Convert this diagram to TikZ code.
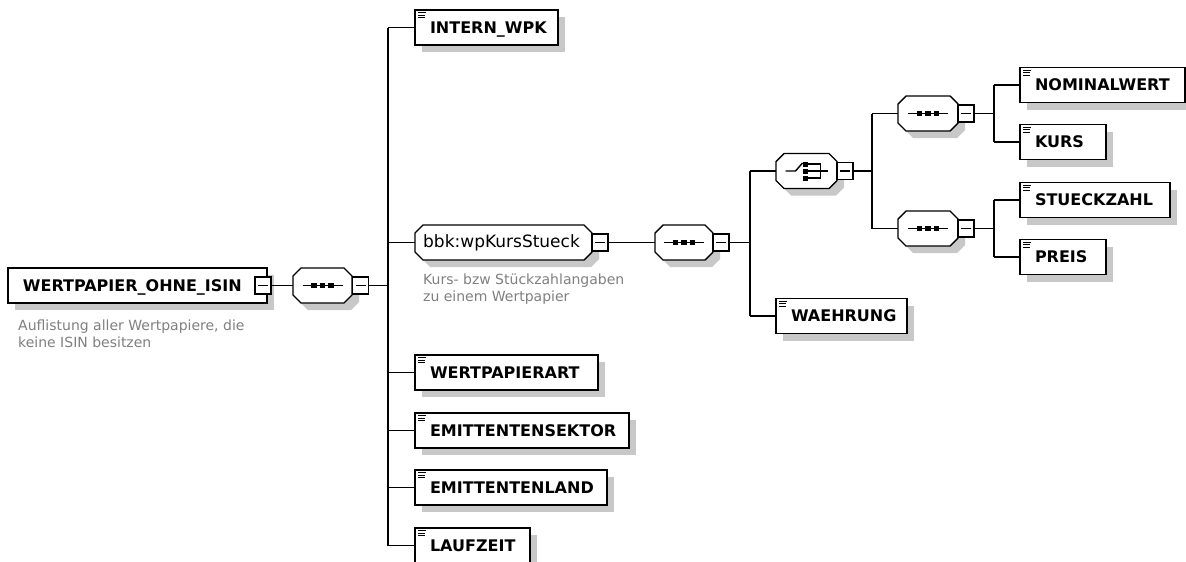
\documentclass[tikz,border=0pt]{standalone}
\usepackage{fontspec}
\setmainfont{DejaVu Sans}
\usetikzlibrary{shadows}
\definecolor{shadowc}{RGB}{200,200,200}
\definecolor{descc}{RGB}{128,128,128}
\tikzset{
  conn/.style={line width=1.4pt, draw=black},
  elembox/.style={draw, line width=1.4pt, fill=white, anchor=west,
    minimum height=35pt, inner xsep=0pt, inner ysep=0pt, outer sep=0pt,
    text height=11.7pt, text depth=0pt,
    text width=#1, align=left, font=\fontsize{16}{18}\selectfont\bfseries,
    general shadow={fill=shadowc, shadow xshift=7pt, shadow yshift=-7pt}},
  simpleicon/.style={path picture={
    \draw[line width=1pt]
      ([xshift=3pt,yshift=-2.5pt]path picture bounding box.north west) -- ++(8pt,0pt)
      ([xshift=3pt,yshift=-5pt]path picture bounding box.north west) -- ++(7pt,0pt)
      ([xshift=3pt,yshift=-7.5pt]path picture bounding box.north west) -- ++(7pt,0pt);}},
  minusbox/.style={draw, line width=1.4pt, fill=white, minimum width=16pt,
    minimum height=17pt, inner sep=0pt, outer sep=0pt,
    path picture={\draw[line width=1.1pt] ([xshift=3pt]path picture bounding box.west)
      -- ([xshift=-3pt]path picture bounding box.east);}},
  compbox/.style={draw=none, minimum width=#1, minimum height=35pt, inner sep=0pt, outer sep=0pt},
  desctext/.style={anchor=north west, inner sep=0pt, align=left, text=descc,
    font=\fontsize{14}{17}\selectfont},
  typetext/.style={anchor=west, inner sep=0pt, font=\fontsize{17}{19}\selectfont},
}
\newcommand\octshape[1]{%
  \fill[shadowc] ([xshift=15pt,yshift=-7pt]#1.north west) -- ([xshift=-1pt,yshift=-7pt]#1.north east)
    -- ([xshift=7pt,yshift=-15pt]#1.north east) -- ([xshift=7pt,yshift=1pt]#1.south east)
    -- ([xshift=-1pt,yshift=-7pt]#1.south east) -- ([xshift=15pt,yshift=-7pt]#1.south west)
    -- ([xshift=7pt,yshift=1pt]#1.south west) -- ([xshift=7pt,yshift=-15pt]#1.north west) -- cycle;
  \draw[line width=1.4pt, fill=white, line join=round] ([xshift=8pt]#1.north west) -- ([xshift=-8pt]#1.north east)
    -- ([yshift=-8pt]#1.north east) -- ([yshift=8pt]#1.south east)
    -- ([xshift=-8pt]#1.south east) -- ([xshift=8pt]#1.south west)
    -- ([yshift=8pt]#1.south west) -- ([yshift=-8pt]#1.north west) -- cycle;
}
\newcommand\seqicon[1]{%
  \draw[line width=1.4pt] ([xshift=-20pt]#1.center) -- ([xshift=20pt]#1.center);
  \foreach \dx in {-8.5pt,0pt,8.5pt} {\fill ([xshift=\dx]#1.center) +(-2.6pt,-2.6pt) rectangle +(2.6pt,2.6pt);}
}
\newcommand\choiceicon[1]{%
  \draw[line width=1.4pt] ([xshift=-21pt]#1.center) -- ([xshift=-11pt]#1.center) -- ([xshift=-4pt,yshift=8pt]#1.center);
  \foreach \dy in {-7pt,0pt,7pt} {%
    \fill ([xshift=-1pt,yshift=\dy]#1.center) +(-2.5pt,-2.5pt) rectangle +(2.5pt,2.5pt);
    \draw[line width=1.4pt] ([xshift=1pt,yshift=\dy]#1.center) -- ([xshift=14pt,yshift=\dy]#1.center);}
  \draw[line width=1.4pt] ([xshift=14pt,yshift=7.7pt]#1.center) -- ([xshift=14pt,yshift=-7.7pt]#1.center);
  \draw[line width=1.4pt] ([xshift=14pt]#1.center) -- ([xshift=21pt]#1.center);
}
\begin{document}
\begin{tikzpicture}[x=1pt,y=-1pt]
\fill[white] (0,0) rectangle (1186,562);
\useasboundingbox (0,0) rectangle (1186,562);

% root
\node[elembox=259pt] (root) at (8,285.5) {\hspace*{15pt}WERTPAPIER\_OHNE\_ISIN};
\node[minusbox] (m0) at (263,285.5) {};
\node[desctext] (desc0) at (18,319.4) {Auflistung aller Wertpapiere, die\\keine ISIN besitzen};
\node[compbox=59pt] (s0) at (322.5,285.5) {};
\octshape{s0}\seqicon{s0}
\node[minusbox] (ms0) at (360.5,285.5) {};
\coordinate (b1) at (388,285.5);

% level 1
\node[elembox=143pt, simpleicon] (intern) at (415,27.5) {\hspace*{15pt}INTERN\_WPK};
\node[compbox=177pt] (bbk) at (503.5,242.5) {};
\octshape{bbk}
\node[typetext] (bbktext) at ([xshift=8pt]bbk.west) {bbk:wpKursStueck};
\node[minusbox] (mbbk) at (600,242.5) {};
\node[desctext] (desc1) at (423,273.5) {Kurs- bzw Stückzahlangaben\\zu einem Wertpapier};
\node[elembox=183pt, simpleicon] (wpa) at (415,372.5) {\hspace*{15pt}WERTPAPIERART};
\node[elembox=214pt, simpleicon] (esek) at (415,430.5) {\hspace*{15pt}EMITTENTENSEKTOR};
\node[elembox=192pt, simpleicon] (eland) at (415,487.5) {\hspace*{15pt}EMITTENTENLAND};
\node[elembox=115pt, simpleicon] (lauf) at (415,545.5) {\hspace*{15pt}LAUFZEIT};

% level 2
\node[compbox=58pt] (s1) at (684,242.5) {};
\octshape{s1}\seqicon{s1}
\node[minusbox] (ms1) at (721,242.5) {};
\coordinate (b2) at (750,242.5);
\node[compbox=61pt] (c1) at (806.5,171) {};
\octshape{c1}\choiceicon{c1}
\node[minusbox] (mc1) at (845,171) {};
\coordinate (b3) at (872,171);
\node[elembox=131pt, simpleicon] (waeh) at (776,316) {\hspace*{15pt}WAEHRUNG};

% level 3
\node[compbox=60pt] (s2) at (928,113.5) {};
\octshape{s2}\seqicon{s2}
\node[minusbox] (ms2) at (966,113.5) {};
\coordinate (b4) at (994,113.5);
\node[compbox=60pt] (s3) at (928,228.5) {};
\octshape{s3}\seqicon{s3}
\node[minusbox] (ms3) at (966,228.5) {};
\coordinate (b5) at (994,228.5);

% level 4
\node[elembox=165pt, simpleicon] (nom) at (1020,85) {\hspace*{15pt}NOMINALWERT};
\node[elembox=86pt, simpleicon] (kurs) at (1020,142) {\hspace*{15pt}KURS};
\node[elembox=150pt, simpleicon] (stueck) at (1020,200) {\hspace*{15pt}STUECKZAHL};
\node[elembox=86pt, simpleicon] (preis) at (1020,257) {\hspace*{15pt}PREIS};

% connectors
\draw[conn] (m0.east) -- (s0.west);
\draw[conn] (ms0.east) -- (b1);
\draw[conn] (b1 |- intern.west) -- (b1 |- lauf.west);
\foreach \n in {intern,bbk,wpa,esek,eland,lauf} {\draw[conn] (b1 |- \n.west) -- (\n.west);}
\draw[conn] (mbbk.east) -- (s1.west);
\draw[conn] (ms1.east) -- (b2);
\draw[conn] (b2 |- c1.west) -- (b2 |- waeh.west);
\foreach \n in {c1,waeh} {\draw[conn] (b2 |- \n.west) -- (\n.west);}
\draw[conn] (mc1.east) -- (b3);
\draw[conn] (b3 |- s2.west) -- (b3 |- s3.west);
\foreach \n in {s2,s3} {\draw[conn] (b3 |- \n.west) -- (\n.west);}
\draw[conn] (ms2.east) -- (b4);
\draw[conn] (b4 |- nom.west) -- (b4 |- kurs.west);
\foreach \n in {nom,kurs} {\draw[conn] (b4 |- \n.west) -- (\n.west);}
\draw[conn] (ms3.east) -- (b5);
\draw[conn] (b5 |- stueck.west) -- (b5 |- preis.west);
\foreach \n in {stueck,preis} {\draw[conn] (b5 |- \n.west) -- (\n.west);}
\end{tikzpicture}
\end{document}
